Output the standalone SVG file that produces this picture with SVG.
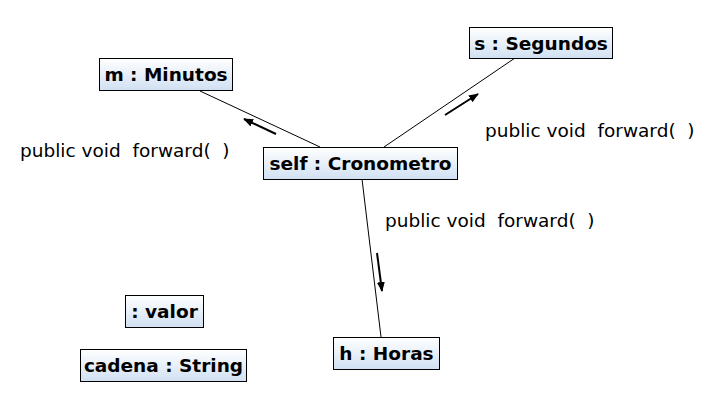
<svg xmlns="http://www.w3.org/2000/svg" width="720" height="407" viewBox="0 0 720 407">
<style>
.box{fill:url(#g);stroke:#000;stroke-width:1}
.lbl{font-family:"DejaVu Sans",sans-serif;font-weight:bold;font-size:18.5px;text-anchor:middle;fill:#000}
.msg{font-family:"DejaVu Sans",sans-serif;font-size:18.5px;fill:#000;white-space:pre}
.ln{stroke:#000;stroke-width:1;fill:none}
.ar{stroke:#000;stroke-width:2;fill:none;marker-end:url(#ah)}
</style>
<defs>
<linearGradient id="g" x1="0" y1="0" x2="0" y2="1">
<stop offset="0" stop-color="#ffffff"/>
<stop offset="1" stop-color="#d0e0f2"/>
</linearGradient>
<marker id="ah" markerWidth="10" markerHeight="8" refX="9" refY="4" orient="auto" markerUnits="userSpaceOnUse">
<path d="M0,0 L10,4 L0,8 Z" fill="#000"/>
</marker>
</defs>
<rect width="720" height="407" fill="#fff"/>
<g id="connectors">
<line class="ln" x1="320" y1="147" x2="200" y2="91"/>
<line class="ln" x1="384" y1="147" x2="515" y2="58"/>
<line class="ln" x1="362" y1="179" x2="381" y2="337"/>
<line class="ar" x1="276" y1="134" x2="244" y2="119"/>
<line class="ar" x1="445" y1="115" x2="478" y2="94"/>
<line class="ar" x1="377" y1="253" x2="382" y2="291"/>
<text class="msg" x="20" y="157" xml:space="preserve">public void  forward(  )</text>
<text class="msg" x="485" y="137" xml:space="preserve">public void  forward(  )</text>
<text class="msg" x="385" y="227" xml:space="preserve">public void  forward(  )</text>
</g>
<g id="m"><rect class="box" x="99.5" y="58.5" width="133" height="32"/><text class="lbl" x="166" y="81">m : Minutos</text></g>
<g id="self"><rect class="box" x="263.5" y="147.5" width="194" height="32"/><text class="lbl" x="360.5" y="170">self : Cronometro</text></g>
<g id="s"><rect class="box" x="469.5" y="27.5" width="143" height="31"/><text class="lbl" x="541" y="50">s : Segundos</text></g>
<g id="h"><rect class="box" x="333.5" y="337.5" width="106" height="32"/><text class="lbl" x="386.5" y="360">h : Horas</text></g>
<g id="valor"><rect class="box" x="125.5" y="295.5" width="78" height="32"/><text class="lbl" x="164.5" y="318">: valor</text></g>
<g id="cadena"><rect class="box" x="80.5" y="349.5" width="166" height="32"/><text class="lbl" x="163.5" y="372">cadena : String</text></g>
</svg>
